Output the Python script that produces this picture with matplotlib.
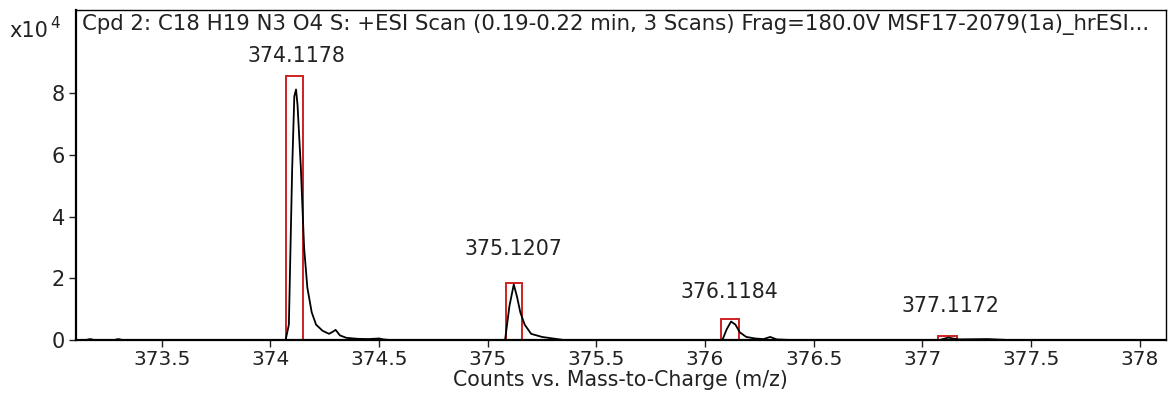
import matplotlib
matplotlib.use("Agg")
import matplotlib.pyplot as plt
from matplotlib.patches import Rectangle

plt.rcParams['font.family'] = ['DejaVu Sans']

# profile spectrum (m/z, counts x10^4)
mz = [373.10, 373.15, 373.17, 373.19, 373.28, 373.30, 373.32, 374.00, 374.07, 374.085,
      374.10, 374.11, 374.118, 374.125, 374.14, 374.155, 374.17, 374.19, 374.21, 374.24,
      374.27, 374.29, 374.30, 374.32, 374.35, 374.40, 374.45, 374.50, 374.52, 374.55,
      374.70, 375.00, 375.08, 375.10, 375.12, 375.135, 375.15, 375.17, 375.20, 375.25,
      375.30, 375.35, 375.60, 376.00, 376.08, 376.10, 376.12, 376.14, 376.16, 376.19,
      376.23, 376.27, 376.30, 376.33, 376.40, 376.70, 377.08, 377.10, 377.12, 377.14,
      377.17, 377.30, 377.40, 378.12]
counts = [0.0, 0.0, 0.03, 0.0, 0.0, 0.03, 0.0, 0.0, 0.0, 0.5,
          5.5, 7.9, 8.12, 7.6, 5.6, 3.0, 1.7, 0.9, 0.5, 0.3,
          0.2, 0.28, 0.33, 0.15, 0.07, 0.04, 0.03, 0.05, 0.02, 0.0,
          0.0, 0.0, 0.0, 1.1, 1.8, 1.4, 0.9, 0.5, 0.2, 0.1,
          0.05, 0.0, 0.0, 0.0, 0.0, 0.35, 0.6, 0.5, 0.25, 0.1,
          0.05, 0.03, 0.1, 0.02, 0.0, 0.0, 0.0, 0.04, 0.08, 0.05,
          0.02, 0.03, 0.0, 0.0]

# labelled isotope peaks
peak_labels = ['374.1178', '375.1207', '376.1184', '377.1172']
box_left = [374.072, 375.082, 376.075, 377.072]
box_right = [374.152, 375.158, 376.158, 377.16]
box_top = [8.55, 1.85, 0.68, 0.12]
label_x = [374.12, 375.12, 376.11, 377.13]
label_y = [9.2, 2.95, 1.55, 1.1]

xticks = [373.5, 374, 374.5, 375, 375.5, 376, 376.5, 377, 377.5, 378]
xtick_labels = ['373.5', '374', '374.5', '375', '375.5', '376', '376.5', '377', '377.5', '378']
yticks = [0, 2, 4, 6, 8]

title = "Cpd 2: C18 H19 N3 O4 S: +ESI Scan (0.19-0.22 min, 3 Scans) Frag=180.0V MSF17-2079(1a)_hrESI..."

FS = 15
TC = '#222222'

fig = plt.figure(figsize=(11.68, 3.94), dpi=100)
ax = fig.add_axes([0.065, 0.137, 0.933, 0.838])

ax.plot(mz, counts, color='black', lw=1.3)
for l, r, t in zip(box_left, box_right, box_top):
    ax.add_patch(Rectangle((l, 0), r - l, t, fill=False, edgecolor='#d02020', lw=1.4))
for x, y, s in zip(label_x, label_y, peak_labels):
    ax.text(x, y, s, ha='center', va='center', fontsize=14.8, color=TC)

ax.set_xlim(373.105, 378.12)
ax.set_ylim(0, 10.7)
ax.set_xticks(xticks)
ax.set_xticklabels(xtick_labels)
ax.set_yticks(yticks)
ax.tick_params(axis='both', direction='out', length=5, width=1, labelsize=FS, colors=TC)
ax.tick_params(axis='x', pad=2, labelsize=14.5)
ax.tick_params(axis='y', pad=3)
for sp in ax.spines.values():
    sp.set_linewidth(1.0)
ax.spines['left'].set_linewidth(1.6)
ax.spines['bottom'].set_linewidth(1.6)

ax.text(0.006, 0.955, title, transform=ax.transAxes, ha='left', va='center', fontsize=15.3, color=TC)
ax.set_xlabel('Counts vs. Mass-to-Charge (m/z)', fontsize=14.8, color=TC, labelpad=1)

fig.text(0.008, 0.922, 'x10', fontsize=FS, ha='left', va='center', color=TC)
fig.text(0.043, 0.94, '4', fontsize=11, ha='left', va='center', color=TC)

fig.savefig('out.png', dpi=100)
